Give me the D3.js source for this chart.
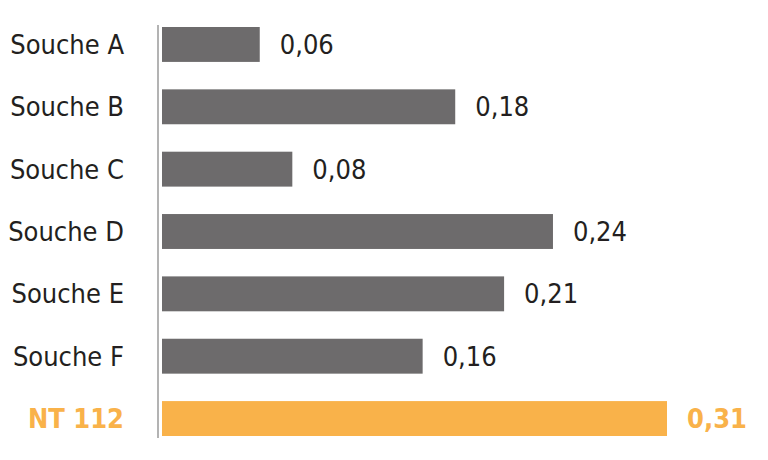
<!DOCTYPE html>
<html><head><meta charset="utf-8">
<script src="https://cdn.jsdelivr.net/npm/d3@7"></script>
<style>body{margin:0;background:#fff}</style>
</head><body><div id="chart"></div>
<script>
var categories = ["Souche A", "Souche B", "Souche C", "Souche D", "Souche E", "Souche F", "NT 112"];
var values = [0.06, 0.18, 0.08, 0.24, 0.21, 0.16, 0.31];
var highlight = "NT 112";

var width = 768, height = 460;
var svg = d3.select("#chart").append("svg")
  .attr("width", width).attr("height", height);

var x = d3.scaleLinear().domain([0, 0.31]).range([162, 667]);
var y = d3.scaleBand().domain(categories).range([27, 436]).paddingInner(0.44);

var font = "'Liberation Sans Narrow', 'DejaVu Sans Condensed', sans-serif";
var fmt = function(v) { return d3.format(".2f")(v).replace(".", ","); };
var data = categories.map(function(c, i) { return {cat: c, val: values[i]}; });

svg.selectAll("rect").data(data).enter().append("rect")
  .attr("x", x(0))
  .attr("y", function(d) { return y(d.cat); })
  .attr("width", function(d) { return x(d.val) - x(0); })
  .attr("height", y.bandwidth())
  .attr("fill", function(d) { return d.cat == highlight ? "#f9b24a" : "#6d6b6c"; });

svg.append("line")
  .attr("x1", 158).attr("x2", 158).attr("y1", 25).attr("y2", 438)
  .attr("stroke", "#9a9a9a").attr("stroke-width", 1.5);

svg.selectAll(".cat").data(data).enter().append("text")
  .attr("x", 124)
  .attr("y", function(d) { return y(d.cat) + y.bandwidth() / 2; })
  .attr("dy", "0.35em").attr("text-anchor", "end")
  .style("font-family", font).style("font-size", "27px")
  .style("font-weight", function(d) { return d.cat == highlight ? "bold" : "normal"; })
  .attr("fill", function(d) { return d.cat == highlight ? "#f9b24a" : "#231f20"; })
  .text(function(d) { return d.cat; });

svg.selectAll(".val").data(data).enter().append("text")
  .attr("x", function(d) { return x(d.val) + 20; })
  .attr("y", function(d) { return y(d.cat) + y.bandwidth() / 2; })
  .attr("dy", "0.35em")
  .style("font-family", font).style("font-size", "27px")
  .style("font-weight", function(d) { return d.cat == highlight ? "bold" : "normal"; })
  .attr("fill", function(d) { return d.cat == highlight ? "#f9b24a" : "#231f20"; })
  .text(function(d) { return fmt(d.val); });
</script></body></html>
